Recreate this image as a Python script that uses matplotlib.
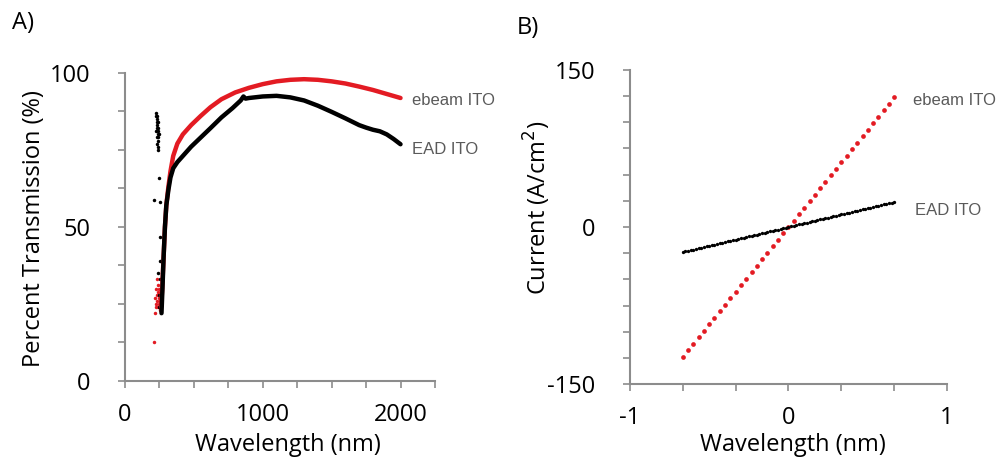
import matplotlib
matplotlib.use("Agg")
import matplotlib.pyplot as plt
from matplotlib.ticker import MultipleLocator

plt.rcParams['font.family'] = ['Open Sans', 'DejaVu Sans']
plt.rcParams['axes.unicode_minus'] = False

# ---- panel A: transmission spectra ----
ebeam_wl = [262, 270, 280, 290, 300, 315, 330, 350, 380, 420, 480, 550, 620, 700,
            800, 900, 1000, 1100, 1200, 1300, 1400, 1500, 1600, 1700, 1800, 1900, 2000]
ebeam_T = [24, 30, 40, 50, 57, 63, 68, 73, 77, 80, 83, 86, 88.8, 91.4,
           93.6, 95.1, 96.3, 97.2, 97.7, 97.9, 97.7, 97.2, 96.5, 95.5, 94.4, 93.1, 91.8]

ead_wl = [265, 272, 280, 290, 300, 315, 330, 350, 380, 420, 480, 550, 620, 700, 780,
          840, 860, 875, 900, 1000, 1100, 1200, 1300, 1400, 1500, 1600, 1700, 1750,
          1800, 1850, 1900, 1950, 2000]
ead_T = [22, 30, 40, 50, 57, 62, 66, 69, 71, 73, 76, 79, 82, 85.5, 88.5,
         91, 92.3, 91.6, 91.8, 92.3, 92.5, 92.0, 91.0, 89.3, 87.3, 85.2, 83.0, 82.2,
         81.5, 81.0, 80.0, 78.5, 76.8]

# noisy UV points below the absorption edge
ebeam_noise_wl = [210, 215, 220, 222, 225, 228, 230, 233, 235, 238, 240, 243, 245, 248, 250, 253, 255]
ebeam_noise_T = [12.5, 22, 27, 24, 30, 25, 33, 28, 26, 31, 24, 29, 27, 25, 30, 26, 23]

ead_noise_wl = [225, 227, 229, 231, 233, 235, 237, 239, 241, 243, 230, 236, 240, 244,
                232, 238, 242, 234, 228, 210, 249, 254, 254, 254, 239, 252, 250, 248]
ead_noise_T = [87, 86, 85, 84, 83, 82, 81, 80, 79, 78, 77, 76, 75, 80,
               79, 84, 82, 86, 81, 58.7, 65.7, 58, 46.8, 39, 35, 33, 24, 28]

# ---- panel B: I-V sweeps ----
ebeam_v = [-0.667, -0.633, -0.600, -0.567, -0.533, -0.500, -0.467, -0.433, -0.400, -0.367,
           -0.333, -0.300, -0.267, -0.233, -0.200, -0.167, -0.133, -0.100, -0.067, -0.033,
           0.000, 0.033, 0.067, 0.100, 0.133, 0.167, 0.200, 0.233, 0.267, 0.300,
           0.333, 0.367, 0.400, 0.433, 0.467, 0.500, 0.533, 0.567, 0.600, 0.633, 0.667]
ebeam_i = [-124.0, -117.8, -111.6, -105.4, -99.2, -93.0, -86.8, -80.6, -74.4, -68.2,
           -62.0, -55.8, -49.6, -43.4, -37.2, -31.0, -24.8, -18.6, -12.4, -6.2,
           0.0, 6.2, 12.4, 18.6, 24.8, 31.0, 37.2, 43.4, 49.6, 55.8,
           62.0, 68.2, 74.4, 80.6, 86.8, 93.0, 99.2, 105.4, 111.6, 117.8, 124.0]

ead_v = [-0.667, -0.650, -0.633, -0.617, -0.600, -0.583, -0.567, -0.550, -0.533, -0.517,
         -0.500, -0.483, -0.467, -0.450, -0.433, -0.417, -0.400, -0.383, -0.367, -0.350,
         -0.333, -0.317, -0.300, -0.283, -0.267, -0.250, -0.233, -0.217, -0.200, -0.183,
         -0.167, -0.150, -0.133, -0.117, -0.100, -0.083, -0.067, -0.050, -0.033, -0.017,
         0.000, 0.017, 0.033, 0.050, 0.067, 0.083, 0.100, 0.117, 0.133, 0.150,
         0.167, 0.183, 0.200, 0.217, 0.233, 0.250, 0.267, 0.283, 0.300, 0.317,
         0.333, 0.350, 0.367, 0.383, 0.400, 0.417, 0.433, 0.450, 0.467, 0.483,
         0.500, 0.517, 0.533, 0.550, 0.567, 0.583, 0.600, 0.617, 0.633, 0.650, 0.667]
ead_i = [-24.0, -23.4, -22.8, -22.2, -21.6, -21.0, -20.4, -19.8, -19.2, -18.6,
         -18.0, -17.4, -16.8, -16.2, -15.6, -15.0, -14.4, -13.8, -13.2, -12.6,
         -12.0, -11.4, -10.8, -10.2, -9.6, -9.0, -8.4, -7.8, -7.2, -6.6,
         -6.0, -5.4, -4.8, -4.2, -3.6, -3.0, -2.4, -1.8, -1.2, -0.6,
         0.0, 0.6, 1.2, 1.8, 2.4, 3.0, 3.6, 4.2, 4.8, 5.4,
         6.0, 6.6, 7.2, 7.8, 8.4, 9.0, 9.6, 10.2, 10.8, 11.4,
         12.0, 12.6, 13.2, 13.8, 14.4, 15.0, 15.6, 16.2, 16.8, 17.4,
         18.0, 18.6, 19.2, 19.8, 20.4, 21.0, 21.6, 22.2, 22.8, 23.4, 24.0]

RED = '#e31b23'
AXIS_GRAY = '#8c8c8c'
NOTE_GRAY = '#5a5a5a'
NOTE_FONT = ['Liberation Sans Narrow', 'Liberation Sans', 'DejaVu Sans']


def style_axes(ax):
    for side in ('top', 'right'):
        ax.spines[side].set_visible(False)
    for side in ('left', 'bottom'):
        ax.spines[side].set_color(AXIS_GRAY)
        ax.spines[side].set_linewidth(1.5)
    ax.tick_params(which='both', direction='out', color=AXIS_GRAY, width=1.2,
                   length=5, labelsize=17)
    ax.tick_params(axis='y', pad=20)
    ax.tick_params(axis='x', pad=11)


fig = plt.figure(figsize=(9.96, 4.62), dpi=100)

# panel A
axA = fig.add_axes([0.1255, 0.1753, 0.3112, 0.6673])
axA.plot(ebeam_noise_wl, ebeam_noise_T, 'o', color=RED, ms=2.5, mew=0)
axA.plot(ead_noise_wl, ead_noise_T, 'o', color='black', ms=2.5, mew=0)
axA.plot(ebeam_wl, ebeam_T, '-', color=RED, lw=3.2, solid_capstyle='round')
axA.plot(ead_wl, ead_T, '-', color='black', lw=3.2, solid_capstyle='round')
axA.set_xlim(0, 2250)
axA.set_ylim(0, 100)
axA.xaxis.set_major_locator(MultipleLocator(1000))
axA.xaxis.set_minor_locator(MultipleLocator(250))
axA.yaxis.set_major_locator(MultipleLocator(50))
axA.yaxis.set_minor_locator(MultipleLocator(12.5))
style_axes(axA)
axA.set_xlabel('Wavelength (nm)', fontsize=17, va='center')
axA.set_ylabel('Percent Transmission (%)', fontsize=17, va='center')
axA.xaxis.set_label_coords(0.527, -0.207)
axA.yaxis.set_label_coords(-0.294, 0.493)
axA.text(2080, 91.1, 'ebeam ITO', color=NOTE_GRAY, fontsize=12, family=NOTE_FONT, va='center')
axA.text(2080, 75.0, 'EAD ITO', color=NOTE_GRAY, fontsize=12, family=NOTE_FONT, va='center')

# panel B
axB = fig.add_axes([0.6325, 0.1688, 0.3183, 0.6797])
axB.plot(ebeam_v, ebeam_i, 'o', color=RED, ms=3.4, mew=0)
axB.plot(ead_v, ead_i, 'o', color='black', ms=2.4, mew=0)
axB.set_xlim(-1, 1)
axB.set_ylim(-150, 150)
axB.xaxis.set_major_locator(MultipleLocator(1))
axB.xaxis.set_minor_locator(MultipleLocator(1 / 3))
axB.yaxis.set_major_locator(MultipleLocator(150))
axB.yaxis.set_minor_locator(MultipleLocator(25))
style_axes(axB)
axB.set_xlabel('Wavelength (nm)', fontsize=17, va='center')
axB.set_ylabel('Current (A/cm$^2$)', fontsize=17, va='center')
axB.xaxis.set_label_coords(0.514, -0.194)
axB.yaxis.set_label_coords(-0.292, 0.56)
axB.text(0.785, 121, 'ebeam ITO', color=NOTE_GRAY, fontsize=12, family=NOTE_FONT, va='center')
axB.text(0.798, 15.3, 'EAD ITO', color=NOTE_GRAY, fontsize=12, family=NOTE_FONT, va='center')

fig.text(12 / 996, 1 - 23 / 462, 'A)', fontsize=17, va='center', ha='left')
fig.text(517 / 996, 1 - 28 / 462, 'B)', fontsize=17, va='center', ha='left')

fig.savefig('out.png', dpi=100)
